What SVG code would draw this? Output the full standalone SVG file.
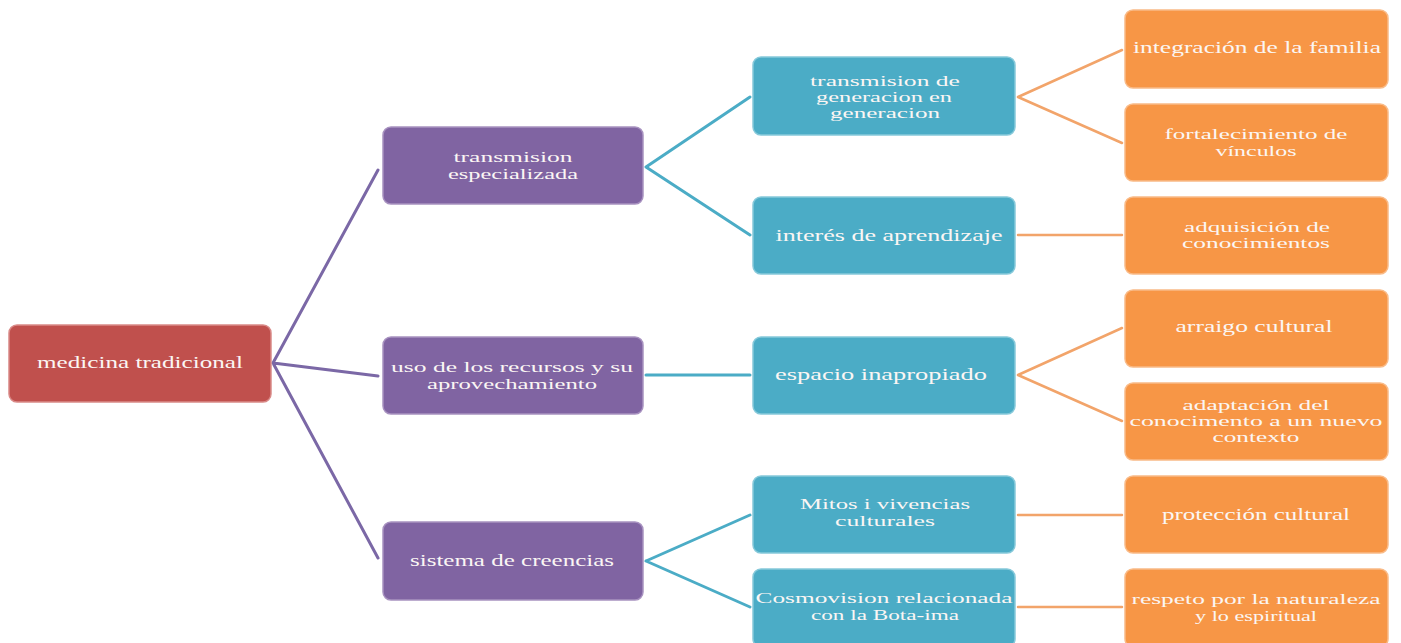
<svg xmlns="http://www.w3.org/2000/svg" width="1401" height="643" viewBox="0 0 1401 643">
  <style>
    .box { stroke-width: 1.5; }
    .root { fill: #c0504d; stroke: #d98a88; }
    .l1 { fill: #8064a2; stroke: #a892c0; }
    .l2 { fill: #4bacc6; stroke: #86c9da; }
    .l3 { fill: #f79646; stroke: #f9bb88; }
    text { font-family: "Liberation Serif", "Times New Roman", serif; font-size: 17px; fill: #fbf6f4; text-anchor: middle; }
    text.m { font-size: 14.5px; }
    .c1 { stroke: #7b68a6; stroke-width: 3; fill: none; stroke-linecap: round; }
    .c2 { stroke: #4bacc6; stroke-width: 3; fill: none; stroke-linecap: round; }
    .c3 { stroke: #f2a46a; stroke-width: 2.5; fill: none; stroke-linecap: round; }
  </style>
  <rect width="1401" height="643" fill="#ffffff"/>

  <!-- connectors -->
  <g id="connectors">
    <path class="c1" d="M273,363 L378,170 M273,363 L378,376 M273,363 L378,558"/>
    <path class="c2" d="M646,167 L750,97 M646,167 L750,235 M646,375 L750,375 M646,561 L750,515 M646,561 L750,607"/>
    <path class="c3" d="M1018,97 L1122,50 M1018,97 L1122,143 M1018,235 L1122,235 M1018,375 L1122,328 M1018,375 L1122,421 M1018,515 L1122,515 M1018,607 L1122,607"/>
  </g>

  <!-- root -->
  <g id="medicina-tradicional">
    <rect class="box root" x="9" y="325" width="262" height="77" rx="8"/>
    <text x="140" y="368" textLength="206" lengthAdjust="spacingAndGlyphs">medicina tradicional</text>
  </g>

  <!-- second level -->
  <g id="transmision-especializada">
    <rect class="box l1" x="383" y="127" width="260" height="77" rx="8"/>
    <text class="m" x="513" y="162" textLength="119" lengthAdjust="spacingAndGlyphs">transmision</text>
    <text class="m" x="513" y="179" textLength="130" lengthAdjust="spacingAndGlyphs">especializada</text>
  </g>
  <g id="uso-recursos">
    <rect class="box l1" x="383" y="337" width="260" height="77" rx="8"/>
    <text class="m" x="512" y="372" textLength="242" lengthAdjust="spacingAndGlyphs">uso de los recursos y su</text>
    <text class="m" x="512" y="389" textLength="170" lengthAdjust="spacingAndGlyphs">aprovechamiento</text>
  </g>
  <g id="sistema-creencias">
    <rect class="box l1" x="383" y="522" width="260" height="78" rx="8"/>
    <text x="512" y="566" textLength="204" lengthAdjust="spacingAndGlyphs">sistema de creencias</text>
  </g>

  <!-- third level -->
  <g id="transmision-generacion">
    <rect class="box l2" x="753" y="57" width="262" height="78" rx="8"/>
    <text class="m" x="885" y="86" textLength="150" lengthAdjust="spacingAndGlyphs">transmision de</text>
    <text class="m" x="884" y="102" textLength="136" lengthAdjust="spacingAndGlyphs">generacion en</text>
    <text class="m" x="885" y="118" textLength="110" lengthAdjust="spacingAndGlyphs">generacion</text>
  </g>
  <g id="interes-aprendizaje">
    <rect class="box l2" x="753" y="197" width="262" height="77" rx="8"/>
    <text x="889" y="241" textLength="227" lengthAdjust="spacingAndGlyphs">interés de aprendizaje</text>
  </g>
  <g id="espacio-inapropiado">
    <rect class="box l2" x="753" y="337" width="262" height="77" rx="8"/>
    <text x="881" y="380" textLength="212" lengthAdjust="spacingAndGlyphs">espacio inapropiado</text>
  </g>
  <g id="mitos-vivencias">
    <rect class="box l2" x="753" y="476" width="262" height="77" rx="8"/>
    <text class="m" x="885" y="509" textLength="170" lengthAdjust="spacingAndGlyphs">Mitos i vivencias</text>
    <text class="m" x="885" y="526" textLength="100" lengthAdjust="spacingAndGlyphs">culturales</text>
  </g>
  <g id="cosmovision">
    <rect class="box l2" x="753" y="569" width="262" height="78" rx="8"/>
    <text class="m" x="884" y="603" textLength="257" lengthAdjust="spacingAndGlyphs">Cosmovision relacionada</text>
    <text class="m" x="885" y="620" textLength="148" lengthAdjust="spacingAndGlyphs">con la Bota-ima</text>
  </g>

  <!-- fourth level -->
  <g id="integracion-familia">
    <rect class="box l3" x="1125" y="10" width="263" height="78" rx="8"/>
    <text x="1257" y="53" textLength="248" lengthAdjust="spacingAndGlyphs">integración de la familia</text>
  </g>
  <g id="fortalecimiento-vinculos">
    <rect class="box l3" x="1125" y="104" width="263" height="77" rx="8"/>
    <text class="m" x="1256" y="139" textLength="183" lengthAdjust="spacingAndGlyphs">fortalecimiento de</text>
    <text class="m" x="1256" y="156" textLength="81" lengthAdjust="spacingAndGlyphs">vínculos</text>
  </g>
  <g id="adquisicion-conocimientos">
    <rect class="box l3" x="1125" y="197" width="263" height="77" rx="8"/>
    <text class="m" x="1257" y="232" textLength="146" lengthAdjust="spacingAndGlyphs">adquisición de</text>
    <text class="m" x="1256" y="248" textLength="148" lengthAdjust="spacingAndGlyphs">conocimientos</text>
  </g>
  <g id="arraigo-cultural">
    <rect class="box l3" x="1125" y="290" width="263" height="77" rx="8"/>
    <text x="1254" y="332" textLength="157" lengthAdjust="spacingAndGlyphs">arraigo cultural</text>
  </g>
  <g id="adaptacion-conocimiento">
    <rect class="box l3" x="1125" y="383" width="263" height="77" rx="8"/>
    <text class="m" x="1256" y="410" textLength="147" lengthAdjust="spacingAndGlyphs">adaptación del</text>
    <text class="m" x="1256" y="426" textLength="253" lengthAdjust="spacingAndGlyphs">conocimento a un nuevo</text>
    <text class="m" x="1256" y="442" textLength="87" lengthAdjust="spacingAndGlyphs">contexto</text>
  </g>
  <g id="proteccion-cultural">
    <rect class="box l3" x="1125" y="476" width="263" height="77" rx="8"/>
    <text x="1256" y="520" textLength="188" lengthAdjust="spacingAndGlyphs">protección cultural</text>
  </g>
  <g id="respeto-naturaleza">
    <rect class="box l3" x="1125" y="569" width="263" height="78" rx="8"/>
    <text class="m" x="1256" y="604" textLength="249" lengthAdjust="spacingAndGlyphs">respeto por la naturaleza</text>
    <text class="m" x="1256" y="621" textLength="122" lengthAdjust="spacingAndGlyphs">y lo espiritual</text>
  </g>
</svg>
